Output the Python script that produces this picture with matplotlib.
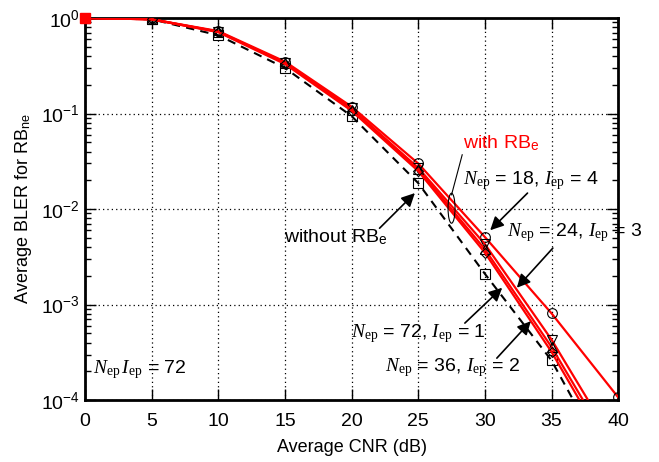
import matplotlib.pyplot as plt
from matplotlib.patches import Ellipse
from matplotlib.transforms import IdentityTransform

plt.rcParams['font.family'] = ['Liberation Sans', 'DejaVu Sans']
plt.rcParams['mathtext.fontset'] = 'custom'
plt.rcParams['mathtext.rm'] = 'Liberation Serif'
plt.rcParams['mathtext.it'] = 'Liberation Serif:italic'
plt.rcParams['mathtext.sf'] = 'Liberation Sans'

cnr = [0, 5, 10, 15, 20, 25, 30, 35, 40]

# without RB_e
bler_none = [1.0, 0.97, 0.66, 0.30, 0.094, 0.0187, 2.1e-3, 2.6e-4, 1.4e-5]

# with RB_e
bler_18_4 = [1.0, 0.97, 0.73, 0.35, 0.118, 0.030, 5.1e-3, 8.1e-4, 1.07e-4]
bler_24_3 = [1.0, 0.97, 0.72, 0.34, 0.113, 0.027, 4.3e-3, 4.3e-4, 3.0e-5]
bler_72_1 = [1.0, 0.97, 0.72, 0.34, 0.110, 0.026, 3.8e-3, 3.6e-4, 2.4e-5]
bler_36_2 = [1.0, 0.97, 0.71, 0.33, 0.107, 0.025, 3.5e-3, 3.2e-4, 2.0e-5]

fig = plt.figure(figsize=(6.59, 4.62), dpi=100)
ax = fig.add_axes([0.129, 0.134, 0.809, 0.827])

red_sets = [(bler_18_4, 'o'), (bler_24_3, 'v'), (bler_72_1, '^'), (bler_36_2, 'D')]
for vals, mk in red_sets:
    ax.plot(cnr, vals, color='red', lw=1.6, marker=mk, ms=7 if mk != 'D' else 5.5,
            mfc='none', mec='black', mew=0.8, zorder=3)

ax.plot(cnr, bler_none, color='black', lw=1.5, ls=(0, (4, 3)), marker='s', ms=7,
        mfc='none', mec='black', mew=0.8, zorder=2)

# red blob at origin
ax.plot(cnr[:1], bler_18_4[:1], 's', color='red', ms=7, zorder=4, clip_on=False)

ax.set_yscale('log')
ax.set_xlim(0, 40)
ax.set_ylim(1e-4, 1)
ax.set_xticks(range(0, 41, 5))
ax.grid(True, which='major', ls=(0, (1, 2.5)), color='black', lw=0.9)
ax.tick_params(which='both', direction='in', top=True, right=True, labelsize=14)
ax.tick_params(which='major', length=8, width=1)
ax.tick_params(which='minor', length=4, width=1)
ax.tick_params(axis='x', pad=9)
for s in ax.spines.values():
    s.set_linewidth(2)

ax.set_xlabel('Average CNR (dB)', fontsize=13, labelpad=7)
ax.set_ylabel(r'Average BLER for RB$_\mathsf{ne}$', fontsize=13, labelpad=5)

fs = 14
ax.text(28.35, 0.049, r'with RB$_\mathsf{e}$', color='red', fontsize=fs, va='center')
# ellipse grouping the red curves, sized in pixels
cx, cy = ax.transData.transform((27.5, 0.0102))
ax.add_patch(Ellipse((cx, cy), 7, 30, transform=IdentityTransform(), fill=False,
                     ec='black', lw=0.8, zorder=5))
ax.plot([28.3, 27.5], [0.037, 0.0141], color='black', lw=0.8)

ax.text(28.35, 0.020, r'$N_{\rm ep}$ = 18, $I_{\rm ep}$ = 4', fontsize=fs, va='center')
ax.text(31.65, 0.0057, r'$N_{\rm ep}$ = 24, $I_{\rm ep}$ = 3', fontsize=fs, va='center')
ax.text(14.9, 0.0051, r'without RB$_\mathsf{e}$', fontsize=fs, va='center')
ax.text(19.95, 5.0e-4, r'$N_{\rm ep}$ = 72, $I_{\rm ep}$ = 1', fontsize=fs, va='center')
ax.text(22.5, 2.2e-4, r'$N_{\rm ep}$ = 36, $I_{\rm ep}$ = 2', fontsize=fs, va='center')
ax.text(0.6, 2.1e-4, r'$N_{\rm ep}\,I_{\rm ep}$ = 72', fontsize=fs, va='center')

arrow = dict(arrowstyle='-|>', color='black', lw=1.2, mutation_scale=20,
             shrinkA=0, shrinkB=0)
ax.annotate('', xy=(24.75, 0.0147), xytext=(22.1, 0.0063), arrowprops=arrow)
ax.annotate('', xy=(30.4, 0.0060), xytext=(33.2, 0.0147), arrowprops=arrow)
ax.annotate('', xy=(32.4, 1.5e-3), xytext=(35.1, 3.9e-3), arrowprops=arrow)
ax.annotate('', xy=(31.3, 1.5e-3), xytext=(28.5, 6.4e-4), arrowprops=arrow)
ax.annotate('', xy=(33.45, 6.7e-4), xytext=(30.9, 2.75e-4), arrowprops=arrow)

fig.savefig('out.png', dpi=100)
